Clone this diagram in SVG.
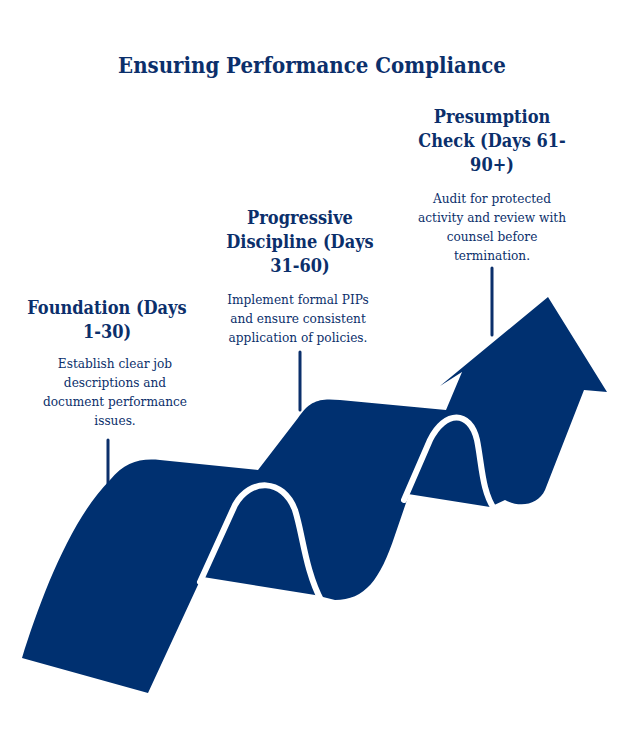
<svg xmlns="http://www.w3.org/2000/svg" width="632" height="739" viewBox="0 0 632 739">
<style>
.t{font-family:"DejaVu Serif Condensed","DejaVu Serif",serif;fill:#0b2f6b;text-anchor:middle}
.h{font-size:18px;font-weight:bold}
.b{font-size:13.5px}
.tk{stroke:#0b2f6b;stroke-width:3;fill:none;stroke-linecap:round}
.gap{stroke:#fff;stroke-width:6;fill:none;stroke-linecap:round}
</style>
<rect width="632" height="739" fill="#fff"/>
<text class="t" x="312" y="73" style="font-size:22px;font-weight:bold">Ensuring Performance Compliance</text>
<g id="connectors">
<path class="tk" d="M108,440 V486"/>
<path class="tk" d="M300,352 V410"/>
<path class="tk" d="M492,268 V335"/>
</g>
<g id="arrow">
<path fill="#003070" d="M22,658 C40,600 70,520 110,480 C125,462 140,458 160,460 L258,470 L298,418 C310,400 320,398 340,400 L446,410 L462,372 L440,386 L548,297 L607,392 L584,390 L545,490 C538,505 520,508 505,500 L490,507 L408,494 L420,462 L395,535 C380,580 365,600 335,600 L315,595 L203,577 L215,548 L148,693 Z"/>
<path class="gap" d="M200,582 L235,505 C250,478 283,478 295,510 C303,535 305,570 322,602"/>
<path class="gap" d="M404,500 L430,440 C445,410 470,410 477,440 C482,465 482,492 495,510"/>
</g>
<g id="n1">
<text class="t h" x="107" y="314">Foundation (Days</text>
<text class="t h" x="107" y="338">1-30)</text>
<text class="t b" x="115" y="368">Establish clear job</text>
<text class="t b" x="115" y="387">descriptions and</text>
<text class="t b" x="115" y="406">document performance</text>
<text class="t b" x="115" y="425">issues.</text>
</g>
<g id="n2">
<text class="t h" x="300" y="224">Progressive</text>
<text class="t h" x="300" y="248">Discipline (Days</text>
<text class="t h" x="300" y="272">31-60)</text>
<text class="t b" x="298" y="304">Implement formal PIPs</text>
<text class="t b" x="298" y="323">and ensure consistent</text>
<text class="t b" x="298" y="342">application of policies.</text>
</g>
<g id="n3">
<text class="t h" x="492" y="123">Presumption</text>
<text class="t h" x="492" y="147">Check (Days 61-</text>
<text class="t h" x="492" y="171">90+)</text>
<text class="t b" x="492" y="203">Audit for protected</text>
<text class="t b" x="492" y="222">activity and review with</text>
<text class="t b" x="492" y="241">counsel before</text>
<text class="t b" x="492" y="260">termination.</text>
</g>
</svg>
